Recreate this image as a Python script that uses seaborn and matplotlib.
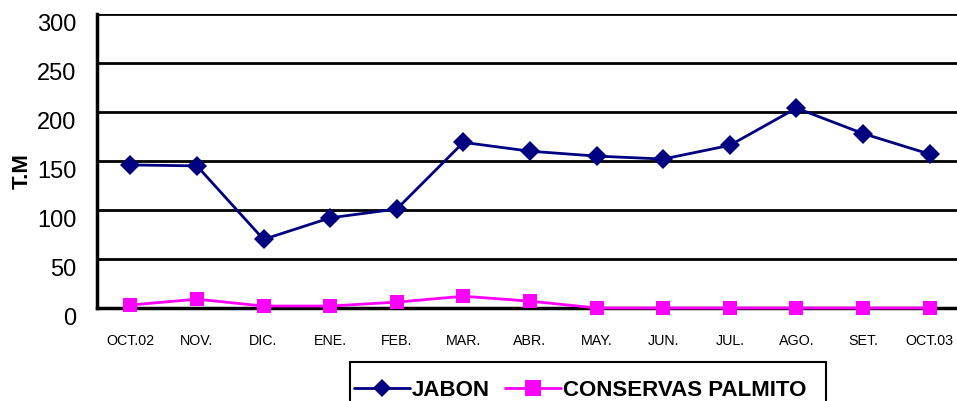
import pandas as pd
import matplotlib
matplotlib.use("Agg")
import matplotlib.pyplot as plt
import seaborn as sns
from matplotlib.ticker import FixedLocator
from matplotlib.patches import Rectangle

# ---------------- data ----------------
meses = ["OCT.02", "NOV.", "DIC.", "ENE.", "FEB.", "MAR.", "ABR.",
         "MAY.", "JUN.", "JUL.", "AGO.", "SET.", "OCT.03"]
jabon = [146, 145, 70, 92, 101, 169, 160, 155, 152, 166, 204, 178, 157]
palmito = [3, 9, 2, 2, 6, 12, 7, 0, 0, 0, 0, 0, 0]
series = ["JABON", "CONSERVAS PALMITO"]
y_ticks = [0, 50, 100, 150, 200, 250, 300]

df = pd.DataFrame({"mes": list(range(len(meses))) * 2,
                   "tm": jabon + palmito,
                   "serie": [series[0]] * len(meses) + [series[1]] * len(meses)})

# ---------------- plot ----------------
sns.set_style("white")
plt.rcParams['font.family'] = ['Liberation Sans', 'DejaVu Sans']
plt.rcParams['text.color'] = 'black'
plt.rcParams['axes.labelcolor'] = 'black'
plt.rcParams['xtick.color'] = 'black'
plt.rcParams['ytick.color'] = 'black'

fig = plt.figure(figsize=(9.57, 4.01), dpi=100)
ax = fig.add_axes([97 / 957, 1 - 308 / 401, 866 / 957, 294 / 401])

sns.lineplot(data=df, x="mes", y="tm", hue="serie", style="serie",
             palette=["#000080", "#FF00FF"], markers=["D", "s"], dashes=False,
             markersize=10, linewidth=2, markeredgewidth=0, ax=ax, legend=True)
for ln in ax.lines:
    ln.set_clip_on(False)
    ln.set_zorder(5)

ax.set_xlim(-0.5, len(meses) - 0.5)
ax.set_ylim(0, 300)
ax.set_yticks(y_ticks)
ax.set_yticklabels([str(v) for v in y_ticks], fontsize=17, va="top")
ax.yaxis.grid(True, color="black", linewidth=2)
ax.set_axisbelow(True)

ax.set_xticks(range(len(meses)))
ax.set_xticklabels(meses, fontsize=10.3)
ax.xaxis.set_minor_locator(FixedLocator([i - 0.5 for i in range(len(meses) + 1)]))
ax.tick_params(axis="x", which="major", length=0, pad=19)
ax.tick_params(axis="x", which="minor", length=5, width=2, direction="out")
ax.tick_params(axis="y", which="major", length=7, width=2, direction="out", pad=8)

for s in ["top", "right"]:
    ax.spines[s].set_visible(False)
for s in ["left", "bottom"]:
    ax.spines[s].set_color("black")
    ax.spines[s].set_linewidth(2.5)

ax.set_xlabel("")
ax.set_ylabel("T.M", fontsize=16, fontweight="bold")
ax.yaxis.set_label_coords(-0.074, 0.465)

handles, labels = ax.get_legend_handles_labels()
ax.get_legend().remove()
leg = fig.legend(handles, labels, loc="center left",
                 bbox_to_anchor=(354 / 957, 1 - 390 / 401), borderaxespad=0,
                 ncol=2, frameon=False, handlelength=2.5,
                 handletextpad=0.1, columnspacing=0.7, borderpad=0.0,
                 prop={"weight": "bold", "size": 16})
for h, ms in zip(leg.legend_handles, [9, 11]):
    h.set_markersize(ms)

# legend box, runs off the bottom edge like the original
fig.patches.append(Rectangle((350 / 957, -0.05), 476 / 957, 0.05 + (401 - 362) / 401,
                             transform=fig.transFigure, fill=False,
                             edgecolor="black", linewidth=1.5))

fig.savefig("out.png", dpi=100)
